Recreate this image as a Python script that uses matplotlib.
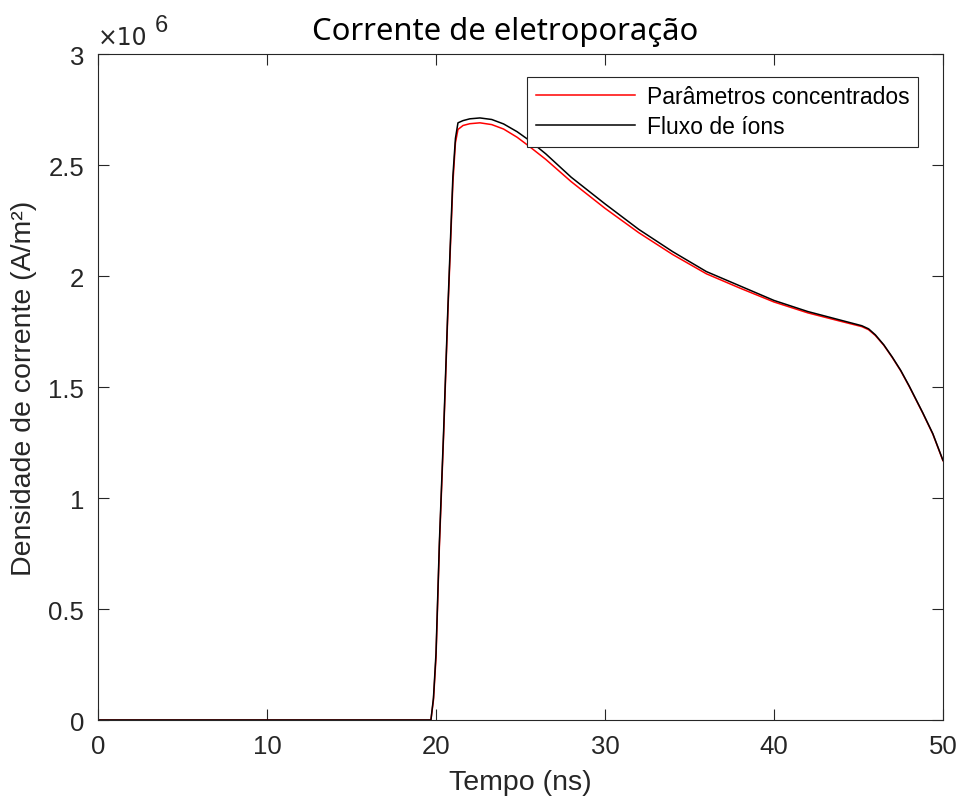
import matplotlib
matplotlib.use("Agg")
import matplotlib.pyplot as plt
from matplotlib.ticker import FuncFormatter

# time (ns)
t = [0, 19.7, 19.85, 20.0, 20.2, 20.45, 20.7, 21.0, 21.15, 21.3, 21.6, 22.0,
     22.6, 23.3, 24.0, 24.8, 25.5, 26.5, 28, 30, 32, 34, 36, 38, 40, 42, 44,
     45.2, 45.6, 46.0, 46.5, 47.0, 47.5, 48.0, 48.8, 49.4, 50]

# current density (A/m^2)
fluxo = [0, 0, 0.1e6, 0.3e6, 0.8e6, 1.3e6, 1.85e6, 2.45e6, 2.62e6, 2.69e6,
         2.70e6, 2.708e6, 2.712e6, 2.705e6, 2.685e6, 2.65e6, 2.612e6, 2.55e6,
         2.445e6, 2.325e6, 2.21e6, 2.11e6, 2.02e6, 1.955e6, 1.89e6, 1.84e6,
         1.80e6, 1.776e6, 1.762e6, 1.735e6, 1.69e6, 1.635e6, 1.575e6, 1.505e6,
         1.385e6, 1.29e6, 1.17e6]

concentrados = [0, 0, 0.09e6, 0.28e6, 0.78e6, 1.28e6, 1.83e6, 2.42e6, 2.6e6,
                2.66e6, 2.678e6, 2.686e6, 2.69e6, 2.682e6, 2.662e6, 2.625e6,
                2.585e6, 2.525e6, 2.425e6, 2.305e6, 2.195e6, 2.097e6, 2.01e6,
                1.945e6, 1.883e6, 1.834e6, 1.795e6, 1.772e6, 1.758e6, 1.732e6,
                1.688e6, 1.633e6, 1.573e6, 1.503e6, 1.383e6, 1.288e6, 1.168e6]

xticks = [0, 10, 20, 30, 40, 50]
yticks = [0, 0.5e6, 1e6, 1.5e6, 2e6, 2.5e6, 3e6]

plt.rcParams['font.family'] = ['Liberation Sans', 'DejaVu Sans']
axcol = '#262626'

fig = plt.figure(figsize=(9.62, 8.03), dpi=100)
ax = fig.add_axes([0.1019, 0.1021, 0.8783, 0.8294])

ax.plot(t, concentrados, color='red', lw=1.1, label='Parâmetros concentrados')
ax.plot(t, fluxo, color='black', lw=1.1, label='Fluxo de íons')

ax.set_xlim(0, 50)
ax.set_ylim(0, 3e6)
ax.set_xticks(xticks)
ax.set_yticks(yticks)
ax.yaxis.set_major_formatter(FuncFormatter(lambda v, p: '%g' % (v / 1e6)))
ax.tick_params(direction='in', length=8, width=0.8, top=True, right=True,
               labelsize=18.5, colors=axcol, labelcolor=axcol)
ax.tick_params(axis='x', pad=10)
ax.tick_params(axis='y', pad=10)
for s in ax.spines.values():
    s.set_color(axcol)
    s.set_linewidth(0.8)

ax.set_xlabel('Tempo (ns)', fontsize=20.5, color=axcol, labelpad=8)
ax.set_ylabel('Densidade de corrente (A/m²)', fontsize=20.5, color=axcol, labelpad=8)
ax.set_title('Corrente de eletroporação', fontsize=22.3, family='Noto Sans',
             color='black', pad=11, x=0.482)

ax.text(0.0, 1.008, '×10', transform=ax.transAxes, fontsize=17, color=axcol,
        ha='left', va='bottom', family='DejaVu Sans')
ax.text(0.067, 1.027, '6', transform=ax.transAxes, fontsize=17, color=axcol,
        ha='left', va='bottom')

leg = ax.legend(loc='upper right', bbox_to_anchor=(0.971, 0.966), fontsize=16.5,
                fancybox=False, framealpha=1, borderpad=0.38, labelspacing=0.3,
                handlelength=4.3, handletextpad=0.55, borderaxespad=0)
leg.get_frame().set_edgecolor(axcol)
leg.get_frame().set_linewidth(0.8)

fig.savefig('out.png', dpi=100)
